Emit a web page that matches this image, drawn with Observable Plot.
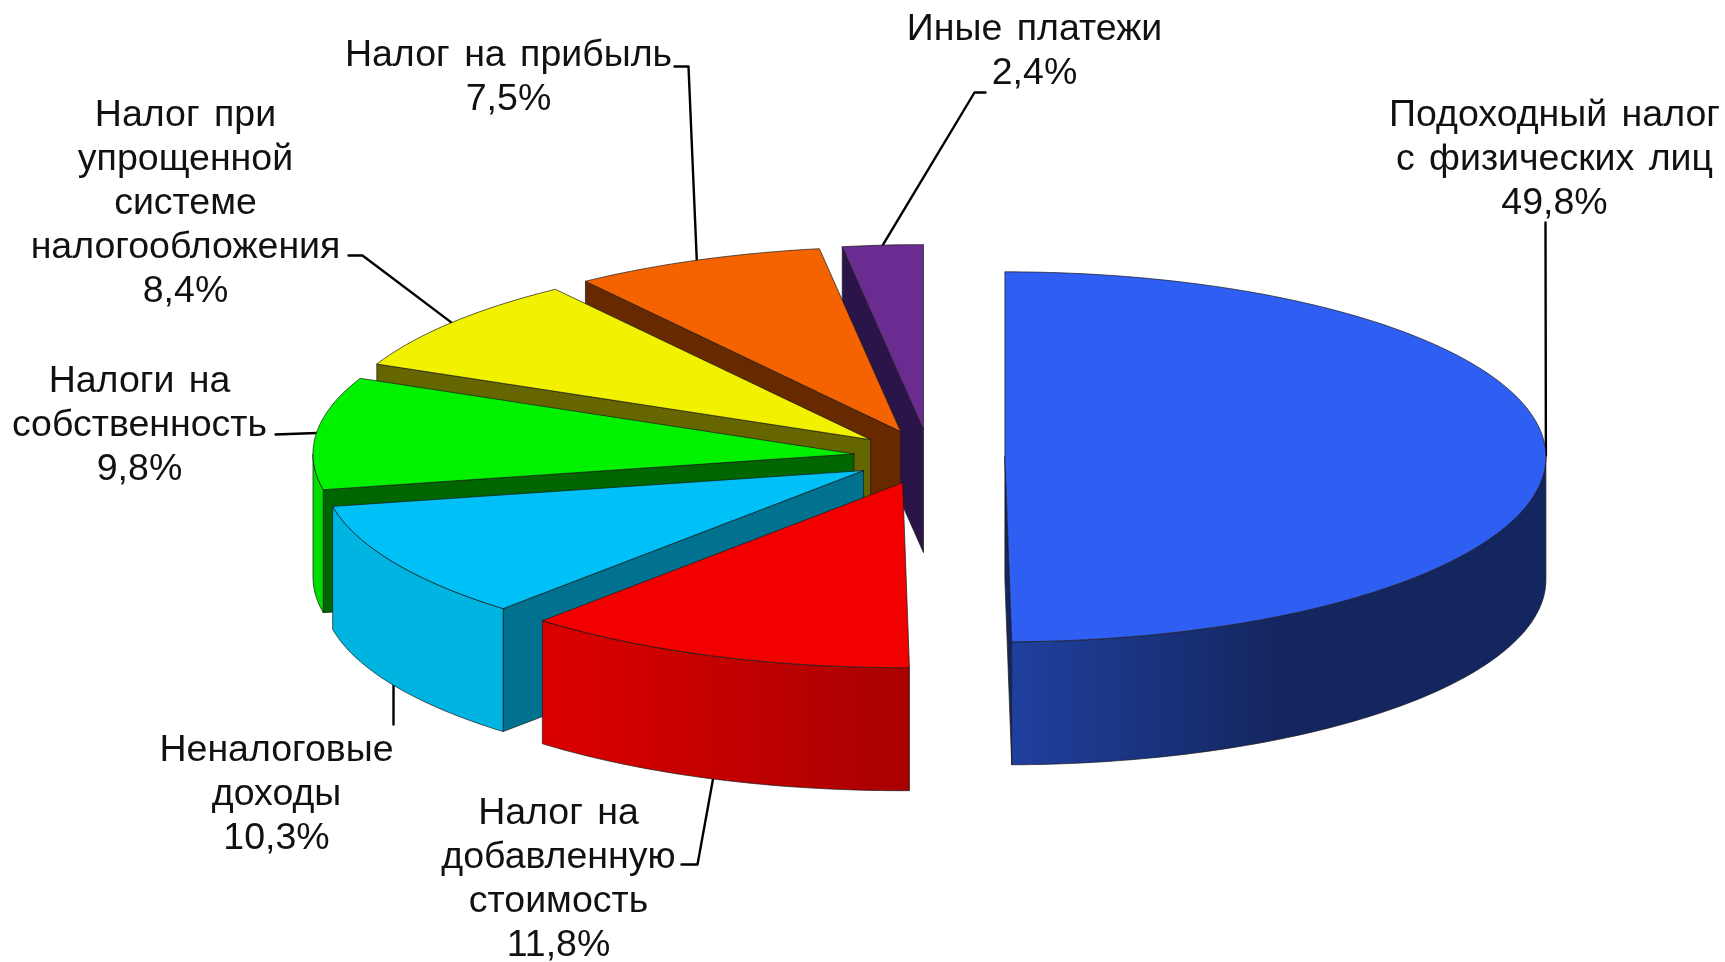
<!DOCTYPE html>
<html lang="ru">
<head>
<meta charset="utf-8">
<script src="https://cdn.jsdelivr.net/npm/d3@7"></script>
<script src="https://cdn.jsdelivr.net/npm/@observablehq/plot@0.6"></script>
<style>
html,body{margin:0;padding:0;background:#fff;overflow:hidden}
svg{display:block;filter:blur(0.5px)}
svg text{word-spacing:4px}
</style>
</head>
<body>
<div id="chart"></div>
<script>
// --- data, clockwise from 12 o'clock ---
const categories = ["Подоходный налог\nс физических лиц","Налог на\nдобавленную\nстоимость","Неналоговые\nдоходы","Налоги на\nсобственность","Налог при\nупрощенной\nсистеме\nналогообложения","Налог на прибыль","Иные платежи"];
const shares = [49.8, 11.8, 10.3, 9.8, 8.4, 7.5, 2.4];
const shareLabels = ["49,8%","11,8%","10,3%","9,8%","8,4%","7,5%","2,4%"];

// --- styles ---
const topColors  = ["#2F5EF2","#F20000","#00C0F8","#00F200","#F2F200","#F56300","#6B2C91"];
const faceColors = ["#14265F","#A80000","#007290","#006600","#666600","#662900","#2B1447"];
const wallColors = ["url(#wall-blue)","url(#wall-red)","#00B4E2","#00DC00","#666600","#662900","#2B1447"];
const paintOrder = [6,5,4,3,2,1,0];

// --- pie layout (chart pixels) ---
const cx = 928.7, cy = 456.5, rx = 541, ry = 185, depth = 123, explode = 75.7, explodeTilt = 1.06;
// label block centre and leader path beyond the slice rim
const labelCentres = [[1554,155],[558,875.5],[276,790],[139,421.5],[185,199],[508,73],[1034,47.5]];
const leaderTurns = [[[1545,222]],[[697,864],[681,864]],[[393,724]],[[275,434]],[[362,255],[348,255]],[[688,66],[674,66]],[[974,92],[985,92]]];
const leaderOnWall = [false,true,true,false,false,false,false];

const rad = d => d * Math.PI / 180;
let acc = 0;
const slices = shares.map((s, i) => {
  const a0 = acc / 100 * 360; acc += s; const a1 = acc / 100 * 360;
  const mid = (a0 + a1) / 2;
  const ax = cx + explode * Math.sin(rad(mid));
  const ay = cy - explode * explodeTilt * (ry / rx) * Math.cos(rad(mid));
  const rim = (t, dz = 0) => ({x: ax + rx * Math.sin(rad(t)), y: ay - ry * Math.cos(rad(t)) + dz});
  const arc = (from, to, dz = 0) => {
    const n = Math.max(2, Math.ceil(Math.abs(to - from)));
    return d3.range(n + 1).map(k => rim(from + (to - from) * k / n, dz));
  };
  const apex = {x: ax, y: ay}, apexLow = {x: ax, y: ay + depth};
  const top = [apex, ...arc(a0, a1), apex];
  const faces = [];
  const faceAt = t => [apex, rim(t), rim(t, depth), apexLow, apex];
  if (a0 > 180) faces.push({points: faceAt(a0), fill: faceColors[i]});
  if (a1 < 180) faces.push({points: faceAt(a1), fill: faceColors[i]});
  const w0 = Math.max(a0, 90), w1 = Math.min(a1, 270);
  if (w1 > w0) faces.push({points: [...arc(w0, w1), ...arc(w1, w0, depth), rim(w0)], fill: wallColors[i]});
  const leaderStart = rim(mid, leaderOnWall[i] ? depth : 0);
  const leader = [leaderStart, ...leaderTurns[i].map(([x, y]) => ({x, y}))];
  return {i, top, faces, leader};
});

const labels = categories.map((c, i) => ({text: c + "\n" + shareLabels[i], x: labelCentres[i][0], y: labelCentres[i][1]}));

const edge = {stroke: "#1a1a1a", strokeWidth: 0.7, strokeLinejoin: "round", curve: "linear"};
const sliceMarks = paintOrder.flatMap(i => {
  const s = slices[i];
  return [
    ...s.faces.map(f => Plot.line(f.points, {x: "x", y: "y", fill: f.fill, ...edge})),
    Plot.line(s.top, {x: "x", y: "y", fill: topColors[i], ...edge})
  ];
});
const leaderMarks = slices.map(s => Plot.line(s.leader, {x: "x", y: "y", stroke: "#000", strokeWidth: 2.4, curve: "linear"}));

const chart = Plot.plot({
  width: 1725, height: 962,
  margin: 0,
  x: {domain: [0, 1725], range: [0, 1725], axis: null},
  y: {domain: [0, 962], range: [0, 962], axis: null},
  style: {background: "#fff"},
  marks: [
    ...leaderMarks,
    ...sliceMarks,
    Plot.text(labels, {x: "x", y: "y", text: "text", fill: "#111", stroke: "none",
      fontFamily: "'Liberation Sans', Arial, sans-serif", fontSize: 37.5, lineHeight: 44/37.5, lineAnchor: "middle", textAnchor: "middle"})
  ]
});

const defs = d3.select(chart).insert("defs", ":first-child");
const grad = (id, x1, x2, stops) => {
  const g = defs.append("linearGradient").attr("id", id).attr("gradientUnits", "userSpaceOnUse")
    .attr("x1", x1).attr("x2", x2).attr("y1", 0).attr("y2", 0);
  stops.forEach(([o, c]) => g.append("stop").attr("offset", o).attr("stop-color", c));
};
grad("wall-blue", 1010, 1280, [[0, "#1F409E"], [1, "#14265F"]]);
grad("wall-red", 541, 909, [[0, "#DC0000"], [1, "#A80000"]]);
document.getElementById("chart").append(chart);
</script>
</body>
</html>
